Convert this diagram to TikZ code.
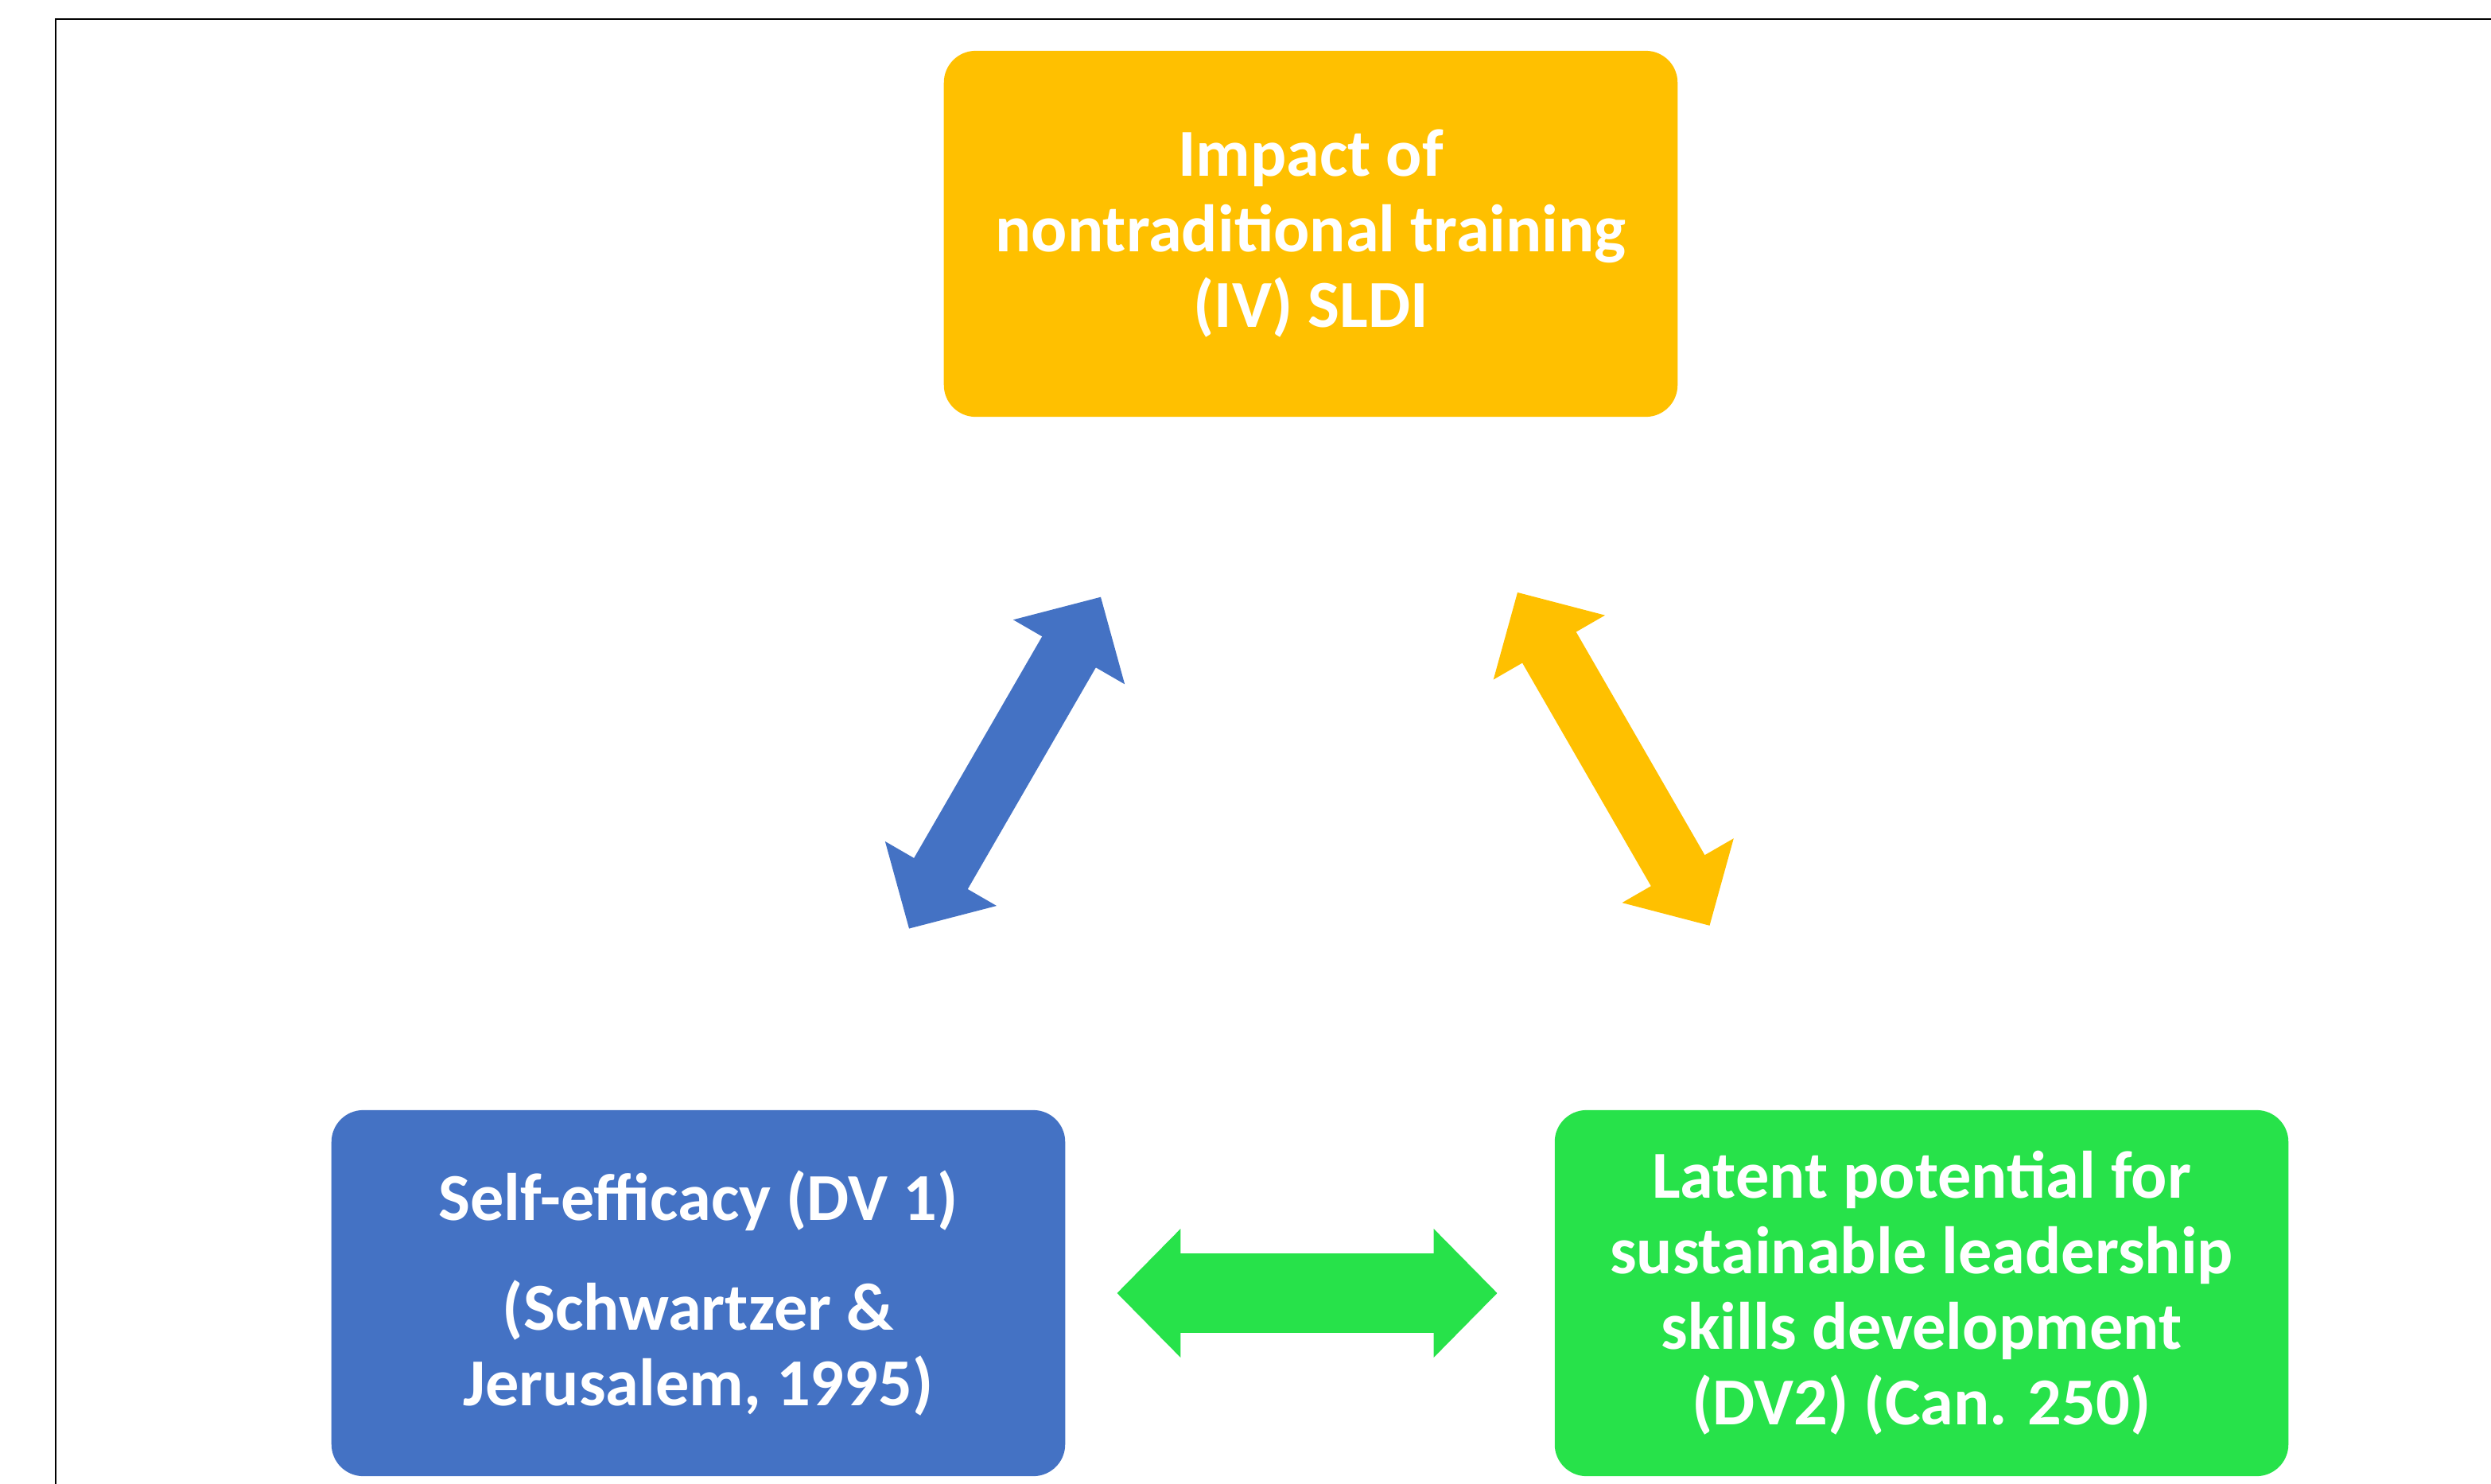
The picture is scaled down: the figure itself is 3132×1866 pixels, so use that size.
\documentclass[tikz,border=0pt]{standalone}
\usepackage{fontspec}
\setmainfont{Carlito}
\usetikzlibrary{arrows.meta}
\definecolor{ivyellow}{HTML}{FFC000}
\definecolor{dvblue}{HTML}{4472C4}
\definecolor{dvgreen}{HTML}{27E24A}

\begin{document}
\begin{tikzpicture}[x=0.01cm, y=-0.01cm,
        box/.style={rounded corners=0.4cm, minimum width=9.22cm, minimum height=4.6cm, inner sep=0pt,
            align=center, text=white, font=\fontsize{24}{27}\selectfont\bfseries},
        twoway/.style={line width=0.78cm, {Triangle[length=0.8cm, width=1.57cm]}-{Triangle[length=0.8cm, width=1.57cm]}}]
        \useasboundingbox (0,0) rectangle (3132,1866);
        \draw[line width=0.8pt] (3132,24) -- (70,24) -- (70,1866);

        \node[box, fill=ivyellow] (iv) at (1648,294) {Impact of\\nontraditional training\\(IV) SLDI};
        \node[box, fill=dvblue] (dv1) at (878,1626) {Self-efficacy (DV 1)\\[12pt](Schwartzer \&\\Jerusalem, 1995)};
        \node[box, fill=dvgreen] (dv2) at (2416,1626) {Latent potential for\\sustainable leadership\\skills development\\(DV2) (Can. 250)};

        \draw[twoway, dvblue, shorten <=5.29cm, shorten >=5.27cm] (dv1.center) -- (iv.center);
        \draw[twoway, ivyellow, shorten <=5.20cm, shorten >=5.33cm] (iv.center) -- (dv2.center);
        \draw[twoway, dvgreen, line width=1cm, shorten <=5.26cm, shorten >=5.33cm] (dv1.center) -- (dv2.center);
    \end{tikzpicture}
\end{document}
